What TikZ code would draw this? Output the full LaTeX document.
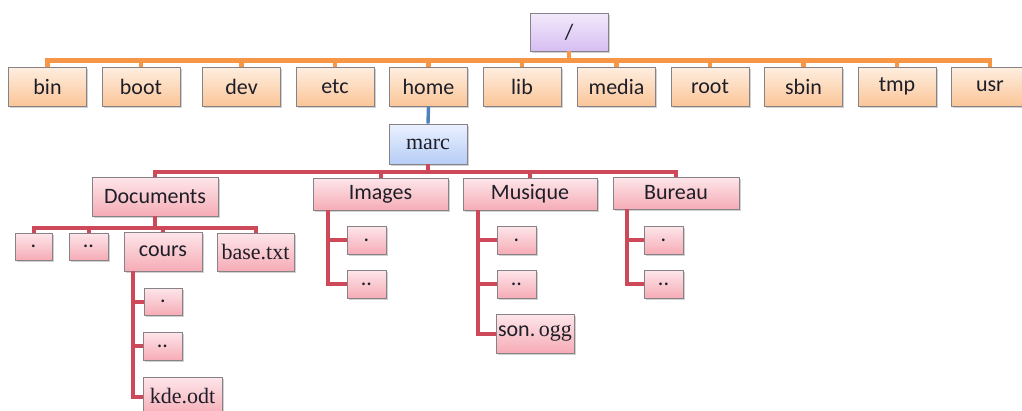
\documentclass[tikz,border=0pt]{standalone}
\usepackage{fontspec}
\setmainfont{Carlito}
\newfontfamily\serifb{Liberation Serif}
\usetikzlibrary{shadows}
\definecolor{ink}{RGB}{30,30,40}
\definecolor{boxedge}{RGB}{135,130,135}
\definecolor{orangeline}{RGB}{247,150,70}
\definecolor{redline}{RGB}{205,72,88}
\definecolor{blueline}{RGB}{79,129,189}
\tikzset{
  basebox/.style={draw=boxedge, line width=0.9pt, inner sep=0pt, text=ink,
    font=\fontsize{22}{24}\selectfont,
    drop shadow={shadow xshift=1.8pt, shadow yshift=-1.8pt, fill=black!40, opacity=0.45}},
  obox/.style={basebox, minimum width=78pt, minimum height=39pt,
    top color={rgb,255:red,254;green,238;blue,224}, bottom color={rgb,255:red,251;green,198;blue,152}},
  rootbox/.style={basebox, minimum width=78pt, minimum height=38pt,
    top color={rgb,255:red,243;green,233;blue,251}, bottom color={rgb,255:red,214;green,190;blue,242}},
  bbox/.style={basebox, minimum width=78pt, minimum height=40pt,
    top color={rgb,255:red,234;green,241;blue,255}, bottom color={rgb,255:red,182;green,205;blue,246}},
  pbox/.style={basebox,
    top color={rgb,255:red,253;green,230;blue,234}, bottom color={rgb,255:red,246;green,172;blue,182}},
  oline/.style={draw=orangeline, line width=4.2pt},
  rline/.style={draw=redline, line width=4pt},
  bline/.style={draw=blueline, line width=3.4pt},
}
\begin{document}
\begin{tikzpicture}[x=1pt,y=-1pt]
\useasboundingbox (0,0) rectangle (1022,410);
\clip (0,0) rectangle (1022,410);

% ---- root level ----
\node[rootbox] (root) at (569,32) {/};
\foreach \n/\x in {bin/47.5, boot/141, dev/241.5, etc/335, home/428.5, lib/522,
                   media/616.5, root/710, sbin/803.5, tmp/897, usr/990} {
  \node[obox] (d-\n) at (\x,86.5) {\n};
}
\foreach \n in {bin,boot,dev,etc,home,lib,media,root,sbin,tmp,usr} {
  \draw[oline] (root.south) -- ++(0,9) -| (d-\n.north);
}

% ---- home directory ----
\node[bbox] (marc) at (428,144) {\serifb marc};
\draw[bline] (d-home.south) -- (marc.north);

\node[pbox, minimum width=126pt, minimum height=39pt] (docs) at (155,196.5) {Documents};
\node[pbox, minimum width=135pt, minimum height=32pt] (imgs) at (380.5,194) {Images};
\node[pbox, minimum width=134pt, minimum height=32pt] (musi) at (530,194) {Musique};
\node[pbox, minimum width=126pt, minimum height=32pt] (bure) at (676,193) {Bureau};
\foreach \c in {docs,imgs,musi,bure} {
  \draw[rline] (marc.south) -- ++(0,8) -| (\c.north);
}

% ---- Documents ----
\node[pbox, minimum width=37pt, minimum height=27pt] (doc-a) at (33.5,246.5) {.};
\node[pbox, minimum width=39pt, minimum height=27pt] (doc-b) at (88.5,246.5) {..};
\node[pbox, minimum width=78pt, minimum height=39pt] (cours) at (163,251.5) {cours};
\node[pbox, minimum width=77pt, minimum height=38pt] (base) at (255.5,252) {\serifb base.txt};
\foreach \c in {doc-a,doc-b,cours,base} {
  \draw[rline] (docs.south) -- ++(0,12) -| (\c.north);
}

% ---- cours ----
\coordinate (cv) at (133,271);
\node[pbox, minimum width=38pt, minimum height=27pt] (cr-a) at (163,301.5) {.};
\node[pbox, minimum width=39pt, minimum height=28pt] (cr-b) at (162.5,346) {..};
\node[pbox, minimum width=79pt, minimum height=39pt] (kde) at (182.5,396.5) {\serifb kde.odt};
\foreach \c in {cr-a,cr-b,kde} {
  \draw[rline] (cv) |- (\c.west);
}

% ---- Images ----
\coordinate (iv) at (328,210);
\node[pbox, minimum width=39pt, minimum height=28pt] (im-a) at (366.5,240) {.};
\node[pbox, minimum width=39pt, minimum height=28pt] (im-b) at (366.5,284) {..};
\foreach \c in {im-a,im-b} {
  \draw[rline] (iv) |- (\c.west);
}

% ---- Musique ----
\coordinate (mv) at (478,210);
\node[pbox, minimum width=39pt, minimum height=28pt] (mu-a) at (516.5,240) {.};
\node[pbox, minimum width=39pt, minimum height=28pt] (mu-b) at (516.5,284) {..};
\node[pbox, minimum width=78pt, minimum height=39pt] (son) at (535,333.5) {son.\,{\serifb ogg}};
\foreach \c in {mu-a,mu-b,son} {
  \draw[rline] (mv) |- (\c.west);
}

% ---- Bureau ----
\coordinate (bv) at (627,209);
\node[pbox, minimum width=39pt, minimum height=28pt] (bu-a) at (663.5,240) {.};
\node[pbox, minimum width=39pt, minimum height=28pt] (bu-b) at (663.5,284) {..};
\foreach \c in {bu-a,bu-b} {
  \draw[rline] (bv) |- (\c.west);
}
\end{tikzpicture}
\end{document}
